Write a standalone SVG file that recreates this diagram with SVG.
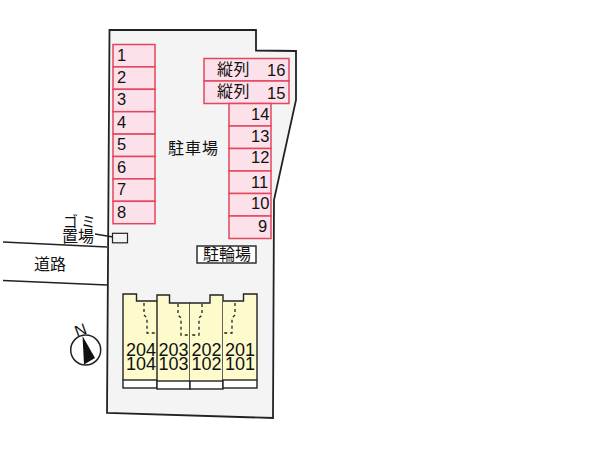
<svg xmlns="http://www.w3.org/2000/svg" width="600" height="451" viewBox="0 0 600 451">
<style>
text{font-family:"Liberation Sans","Noto Sans CJK JP",sans-serif;fill:#111}
.s{fill:#fde1ea;stroke:#e2475f;stroke-width:1.5}
.n{font-size:16.500px}
.j{font-family:"Noto Sans CJK JP","Liberation Sans",sans-serif;font-size:16px}
.g{font-family:"Noto Sans CJK JP","Liberation Sans",sans-serif;font-size:15px}
.c{font-size:16px;text-anchor:middle}
.u{font-size:18px;text-anchor:middle}
.b{fill:#fdfbcc;stroke:none}
.o{fill:none;stroke:#222;stroke-width:1.400}
.w{fill:#fff;stroke:#222;stroke-width:1.400}
.d{fill:none;stroke:#222;stroke-width:1.300;stroke-dasharray:3 3}
.l{fill:none;stroke:#222;stroke-width:1.400}
</style>
<rect width="600" height="451" fill="#fff"/>
<g id="lot"><path d="M109.500 30L256 30L256 50.500L296 51L296 100L274 200L273 418L107 413Z" fill="#f4f4f4" stroke="#222" stroke-width="1.800"/></g>
<g id="spot-1"><rect class="s" x="113" y="44.500" width="42" height="22.400"/><text class="n" x="117" y="61">1</text></g>
<g id="spot-2"><rect class="s" x="113" y="66.900" width="42" height="22.400"/><text class="n" x="117" y="83">2</text></g>
<g id="spot-3"><rect class="s" x="113" y="89.300" width="42" height="22.400"/><text class="n" x="117" y="105">3</text></g>
<g id="spot-4"><rect class="s" x="113" y="111.700" width="42" height="22.400"/><text class="n" x="117" y="128">4</text></g>
<g id="spot-5"><rect class="s" x="113" y="134.100" width="42" height="22.400"/><text class="n" x="117" y="150">5</text></g>
<g id="spot-6"><rect class="s" x="113" y="156.500" width="42" height="22.400"/><text class="n" x="117" y="173">6</text></g>
<g id="spot-7"><rect class="s" x="113" y="178.900" width="42" height="22.400"/><text class="n" x="117" y="195">7</text></g>
<g id="spot-8"><rect class="s" x="113" y="201.300" width="42" height="22.400"/><text class="n" x="117" y="218">8</text></g>
<g id="spot-16"><rect class="s" x="204" y="58.500" width="85" height="22.500"/><text class="j" x="217" y="75" letter-spacing="0.500">縦列</text><text class="n" x="267" y="76">16</text></g>
<g id="spot-15"><rect class="s" x="204" y="81" width="85" height="22.500"/><text class="j" x="217" y="97" letter-spacing="0.500">縦列</text><text class="n" x="267" y="99">15</text></g>
<g id="spot-14"><rect class="s" x="229" y="103.500" width="42" height="22.500"/><text class="n" x="251" y="120">14</text></g>
<g id="spot-13"><rect class="s" x="229" y="126" width="42" height="22.500"/><text class="n" x="251" y="142">13</text></g>
<g id="spot-12"><rect class="s" x="229" y="148.500" width="42" height="22.500"/><text class="n" x="251" y="163">12</text></g>
<g id="spot-11"><rect class="s" x="229" y="171" width="42" height="22.500"/><text class="n" x="251" y="188">11</text></g>
<g id="spot-10"><rect class="s" x="229" y="193.500" width="42" height="22.500"/><text class="n" x="251" y="209">10</text></g>
<g id="spot-9"><rect class="s" x="229" y="216" width="42" height="22.500"/><text class="n" x="258" y="232">9</text></g>
<g id="parking-label"><text class="j" x="168" y="154" letter-spacing="1">駐車場</text></g>
<g id="bike-parking"><rect x="197" y="246" width="59" height="17" fill="#fff" stroke="#222" stroke-width="1.400"/><text class="j" x="203" y="260">駐輪場</text></g>
<g id="garbage"><rect x="112.500" y="233.300" width="15" height="9.500" fill="#f4f4f4" stroke="#222" stroke-width="1.200"/><text class="g" x="63" y="227" letter-spacing="3">ゴミ</text><text class="j" x="62" y="242">置場</text></g>
<g id="road-label"><text class="j" x="34" y="270">道路</text></g>
<g id="unit-204"><path class="b" d="M123 294H136.500V301H157V380H123Z"/><rect class="w" x="123" y="380" width="34" height="8"/><path class="o" d="M123 380V294H136.500V301H157"/><text class="u" x="141" y="356">204</text><text class="u" x="141" y="370">104</text></g>
<g id="unit-203"><path class="b" d="M157 295H169.500V303H190V381H157Z"/><rect class="w" x="157" y="381" width="33" height="8"/><path class="o" d="M157 381V295H169.500V303H190V381"/><text class="u" x="173.500" y="356">203</text><text class="u" x="173.500" y="370">103</text></g>
<g id="unit-202"><path class="b" d="M190 303H210V295H223V381H190Z"/><rect class="w" x="190" y="381" width="33" height="8"/><path class="o" d="M190 303H210V295H223V381"/><text class="u" x="206.500" y="356">202</text><text class="u" x="206.500" y="370">102</text></g>
<g id="unit-201"><path class="b" d="M223 301H243.500V294H257V380H223Z"/><rect class="w" x="223" y="380" width="34" height="8"/><path class="o" d="M223 301H243.500V294H257V380"/><text class="u" x="240" y="356">201</text><text class="u" x="240" y="370">101</text></g>
<g id="compass"><circle cx="85.700" cy="350" r="15" fill="#fff" stroke="#222" stroke-width="1.500"/><path d="M82.500 336L84 364.500L95 358Z" fill="#111"/><text class="c" x="80.500" y="335.500" transform="rotate(-20 80.500 330)">N</text></g>
<g id="connectors">
<path class="l" d="M3 242L107 247"/><path class="l" d="M3 280.500L107 285"/><path class="l" d="M95 234L113 237"/>
<path class="d" d="M144 303V315L147 318V333H157"/><path class="d" d="M178 304V315L181 318V335H190"/><path class="d" d="M202 304V315L199 318V335H190"/><path class="d" d="M235 303V315L232 318V333H223"/>
</g>
</svg>
